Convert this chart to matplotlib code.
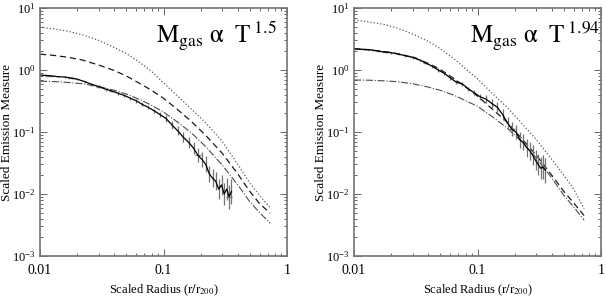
import numpy as np
import matplotlib
matplotlib.use('Agg')
import matplotlib.pyplot as plt
from matplotlib.ticker import LogLocator, NullFormatter, LogFormatterMathtext, FixedLocator, FixedFormatter

plt.rcParams['font.family'] = ['Liberation Serif', 'DejaVu Serif']
plt.rcParams['mathtext.fontset'] = 'stix'

# model curves
x_mod = [0.01, 0.013, 0.017, 0.022, 0.03, 0.04, 0.05, 0.065, 0.08, 0.1,
         0.13, 0.17, 0.22, 0.3, 0.4, 0.5, 0.6, 0.73]

left_top = [4.9, 4.6, 4.2, 3.7, 3.0, 2.3, 1.85, 1.3, 0.95, 0.62,
            0.38, 0.23, 0.14, 0.07, 0.03, 0.015, 0.0095, 0.006]
left_mid = [1.8, 1.72, 1.6, 1.45, 1.2, 0.98, 0.8, 0.6, 0.47, 0.35,
            0.23, 0.145, 0.088, 0.045, 0.021, 0.011, 0.007, 0.0049]
left_low = [0.66, 0.65, 0.63, 0.6, 0.54, 0.47, 0.41, 0.33, 0.27, 0.21,
            0.145, 0.095, 0.058, 0.029, 0.014, 0.0075, 0.005, 0.0034]

right_top = [6.4, 6.0, 5.5, 4.8, 3.8, 2.9, 2.2, 1.5, 1.05, 0.72,
             0.43, 0.26, 0.15, 0.075, 0.036, 0.02, 0.012, 0.0058]
right_mid = [2.2, 2.12, 2.0, 1.85, 1.6, 1.28, 1.02, 0.72, 0.53, 0.38,
             0.24, 0.15, 0.085, 0.042, 0.02, 0.011, 0.0072, 0.0045]
right_low = [0.69, 0.685, 0.67, 0.65, 0.6, 0.53, 0.47, 0.39, 0.32, 0.26,
             0.18, 0.12, 0.075, 0.038, 0.018, 0.0095, 0.0062, 0.0038]

# scaled data points
x_dat = [0.010, 0.012, 0.014, 0.016, 0.018, 0.020, 0.023, 0.026, 0.030, 0.034,
         0.038, 0.043, 0.048, 0.054, 0.060, 0.067, 0.075, 0.084, 0.094, 0.105,
         0.117, 0.130, 0.145, 0.160, 0.175, 0.190, 0.205, 0.220, 0.235, 0.250,
         0.265, 0.280, 0.295, 0.310, 0.325, 0.340, 0.355]
left_dat = [0.83, 0.81, 0.78, 0.77, 0.74, 0.71, 0.65, 0.59, 0.54, 0.49,
            0.46, 0.42, 0.39, 0.35, 0.32, 0.28, 0.25, 0.22, 0.19, 0.165,
            0.13, 0.105, 0.082, 0.068, 0.055, 0.042, 0.036, 0.03, 0.021, 0.018,
            0.016, 0.012, 0.014, 0.010, 0.012, 0.009, 0.011]
right_dat = [2.2, 2.15, 2.1, 2.0, 1.95, 1.9, 1.8, 1.7, 1.6, 1.45,
             1.3, 1.15, 1.0, 0.88, 0.75, 0.64, 0.6, 0.5, 0.43, 0.37,
             0.34, 0.29, 0.25, 0.19, 0.14, 0.11, 0.10, 0.075, 0.068, 0.056,
             0.05, 0.042, 0.035, 0.03, 0.026, 0.027, 0.024]
# fractional errors
err_frac = [0.03, 0.03, 0.03, 0.04, 0.04, 0.04, 0.04, 0.05, 0.05, 0.05,
            0.05, 0.06, 0.06, 0.06, 0.07, 0.07, 0.08, 0.08, 0.1, 0.12,
            0.15, 0.18, 0.2, 0.22, 0.25, 0.3, 0.3, 0.35, 0.35, 0.4,
            0.4, 0.45, 0.45, 0.5, 0.5, 0.55, 0.6]
xerr_frac = [0.0, 0.08, 0.0, 0.0, 0.06, 0.0, 0.0, 0.0, 0.05, 0.0,
             0.05, 0.0, 0.0, 0.0, 0.0, 0.0, 0.0, 0.0, 0.0, 0.0,
             0.0, 0.0, 0.0, 0.0, 0.0, 0.06, 0.0, 0.0, 0.0, 0.0,
             0.0, 0.0, 0.0, 0.0, 0.0, 0.05, 0.0]

panels = [
    (left_top, left_mid, left_low, left_dat, '1.5'),
    (right_top, right_mid, right_low, right_dat, '1.94'),
]

fig = plt.figure(figsize=(6.06, 3.06), dpi=100)
lefts = [40 / 606, 354 / 606]

for (top, mid, low, dat, expo), lx in zip(panels, lefts):
    ax = fig.add_axes([lx, 50 / 306, 247 / 606, 248 / 306])
    ax.set_xscale('log')
    ax.set_yscale('log')

    ax.plot(x_mod, top, ls=':', color='0.35', lw=0.9)
    ax.plot(x_mod, mid, ls=(0, (5, 3)), color='0.1', lw=0.9)
    ax.plot(x_mod, low, ls='-.', color='0.3', lw=0.8)

    y = np.array(dat)
    fr = np.array(err_frac)
    yerr = [y * fr / (1 + fr), y * fr]
    xx = np.array(x_dat)
    ax.errorbar(xx, y, yerr=yerr, xerr=xx * np.array(xerr_frac), fmt='-',
                color='k', lw=0.9, ecolor='0.45', elinewidth=0.9, capsize=0)

    ax.set_xlim(0.01, 1)
    ax.set_ylim(1e-3, 10)

    ax.xaxis.set_major_locator(FixedLocator([0.01, 0.1, 1]))
    ax.xaxis.set_major_formatter(FixedFormatter(['0.01', '0.1', '1']))
    ax.xaxis.set_minor_locator(LogLocator(base=10, subs=np.arange(2, 10)))
    ax.xaxis.set_minor_formatter(NullFormatter())
    ax.yaxis.set_major_locator(LogLocator(base=10, numticks=10))
    ax.yaxis.set_major_formatter(LogFormatterMathtext())
    ax.yaxis.set_minor_locator(LogLocator(base=10, subs=np.arange(2, 10), numticks=10))
    ax.yaxis.set_minor_formatter(NullFormatter())

    ax.tick_params(which='both', direction='in', top=True, right=True,
                   color='0.4', width=0.7)
    ax.tick_params(which='major', length=5, labelsize=10, pad=6)
    ax.tick_params(which='minor', length=2.5)
    ax.tick_params(axis='y', labelsize=9, pad=3)
    for s in ax.spines.values():
        s.set_color('0.45')
        s.set_linewidth(1.2)

    ax.set_xlabel(r'Scaled Radius ($\mathrm{r/r_{200}}$)', fontsize=9, labelpad=4)
    ax.set_ylabel('Scaled Emission Measure', fontsize=9.5)
    ax.yaxis.set_label_coords(-0.11, 0.5)

    ax.text(0.47, 0.86, r'$\mathrm{M_{gas}\ α\ \ T}^{\;%s}$' % expo,
            transform=ax.transAxes, fontsize=18)

fig.savefig('out.png', dpi=100)
